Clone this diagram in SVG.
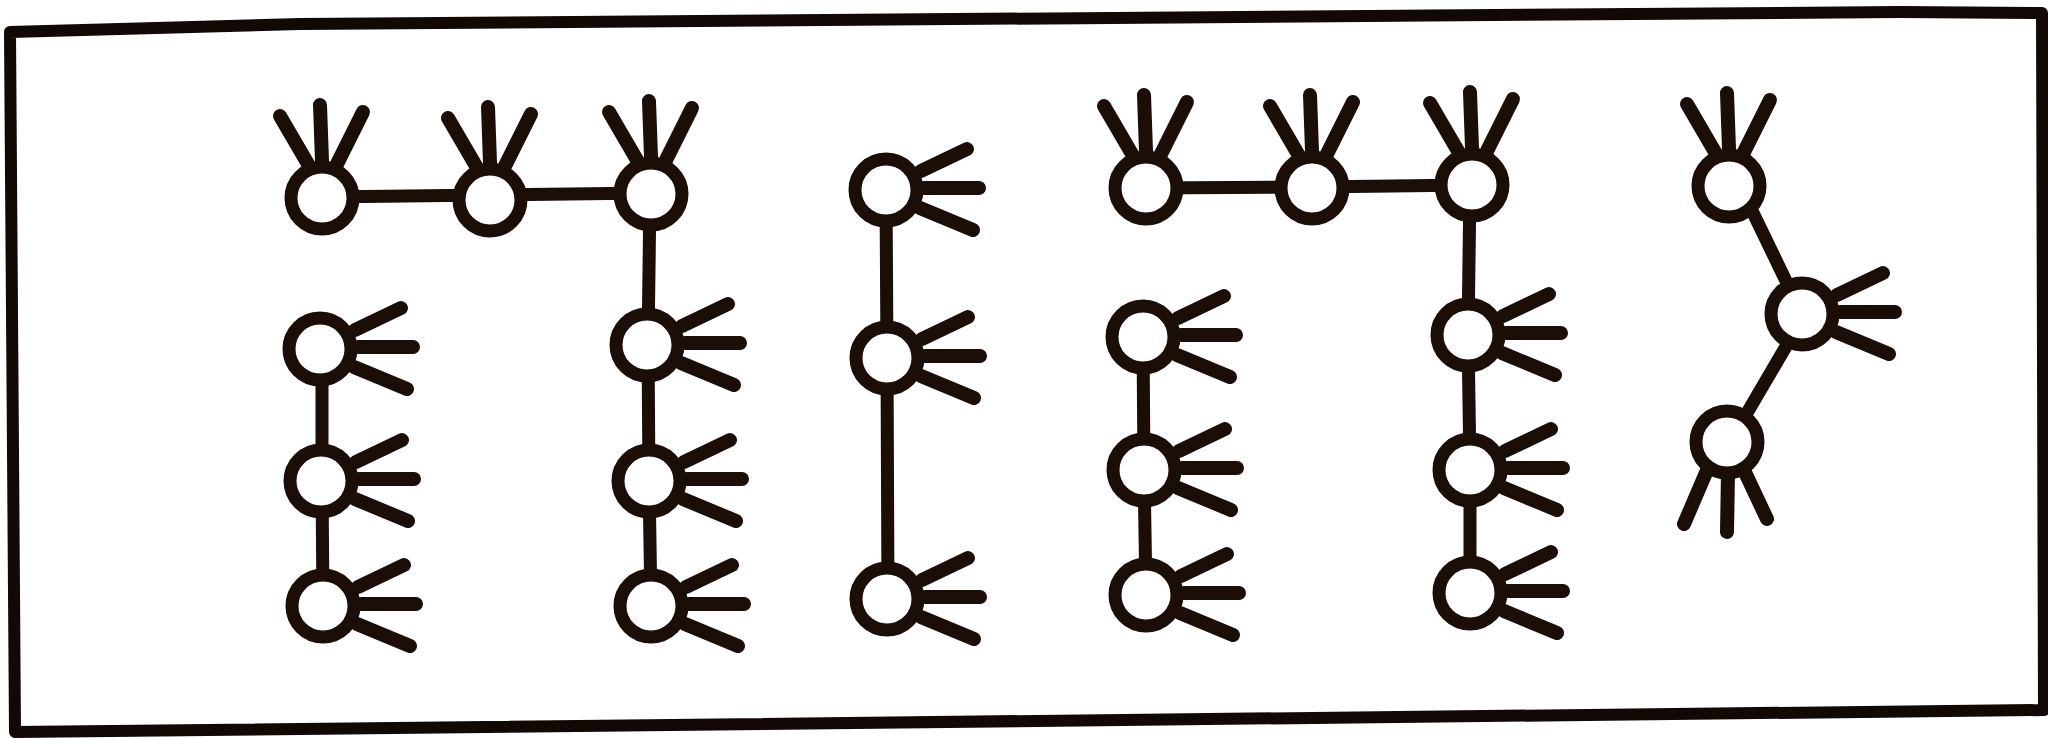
<svg xmlns="http://www.w3.org/2000/svg" xmlns:xlink="http://www.w3.org/1999/xlink" width="2048" height="738" viewBox="0 0 2048 738">
<style>
.ring{fill:#ffffff;stroke:#1b0d08;stroke-width:13}
.spk{fill:none;stroke:#1b0d08;stroke-width:14;stroke-linecap:round}
.con{fill:none;stroke:#1b0d08;stroke-width:13;stroke-linecap:round;stroke-linejoin:round}
.frame{fill:none;stroke:#120805;stroke-width:12;stroke-linejoin:round}
</style>
<defs>
<circle id="ring" class="ring" r="31"/>
<path id="spk-up" class="spk" d="M-14,-34 L-42,-82 M0,-37 L-2,-93 M15,-34 L41,-86"/>
<path id="spk-right" class="spk" d="M35,-19 L81,-41 M38,-2 L93,-2 M34,18 L87,40"/>
<path id="spk-down" class="spk" d="M-19,26 L-43,82 M1,31 L0,90 M16,26 L40,77"/>
</defs>
<rect width="2048" height="738" fill="#ffffff"/>
<path class="frame" d="M10,32 L300,24 L1900,12 L2042,13 L2044,710 L15,732 Z"/>
<g id="connectors">
<path class="con" d="M322,197 L490,195 L651,193 M650,194 L648,345 L649,481 L651,606"/>
<path class="con" d="M322,349 L322,481 L323,606"/>
<path class="con" d="M886,190 L887,358 L888,599"/>
<path class="con" d="M1146,188 L1312,187 L1472,185 M1470,186 L1468,335 L1470,470 L1470,593"/>
<path class="con" d="M1143,337 L1144,470 L1146,595"/>
<path class="con" d="M1742,190 L1802,314 M1805,314 L1730,442"/>
</g>
<g id="node-a1" transform="translate(322,198)"><use xlink:href="#spk-up"/><use xlink:href="#ring"/></g>
<g id="node-a2" transform="translate(490,200)"><use xlink:href="#spk-up"/><use xlink:href="#ring"/></g>
<g id="node-a3" transform="translate(651,194)"><use xlink:href="#spk-up"/><use xlink:href="#ring"/></g>
<g id="node-b1" transform="translate(320,349)"><use xlink:href="#spk-right"/><use xlink:href="#ring"/></g>
<g id="node-b2" transform="translate(321,481)"><use xlink:href="#spk-right"/><use xlink:href="#ring"/></g>
<g id="node-b3" transform="translate(323,606)"><use xlink:href="#spk-right"/><use xlink:href="#ring"/></g>
<g id="node-c1" transform="translate(647,345)"><use xlink:href="#spk-right"/><use xlink:href="#ring"/></g>
<g id="node-c2" transform="translate(649,481)"><use xlink:href="#spk-right"/><use xlink:href="#ring"/></g>
<g id="node-c3" transform="translate(651,606)"><use xlink:href="#spk-right"/><use xlink:href="#ring"/></g>
<g id="node-g1" transform="translate(886,190)"><use xlink:href="#spk-right"/><use xlink:href="#ring"/></g>
<g id="node-g2" transform="translate(887,358)"><use xlink:href="#spk-right"/><use xlink:href="#ring"/></g>
<g id="node-g3" transform="translate(887,599)"><use xlink:href="#spk-right"/><use xlink:href="#ring"/></g>
<g id="node-d1" transform="translate(1146,188)"><use xlink:href="#spk-up"/><use xlink:href="#ring"/></g>
<g id="node-d2" transform="translate(1312,188)"><use xlink:href="#spk-up"/><use xlink:href="#ring"/></g>
<g id="node-d3" transform="translate(1472,185)"><use xlink:href="#spk-up"/><use xlink:href="#ring"/></g>
<g id="node-e1" transform="translate(1143,337)"><use xlink:href="#spk-right"/><use xlink:href="#ring"/></g>
<g id="node-e2" transform="translate(1144,470)"><use xlink:href="#spk-right"/><use xlink:href="#ring"/></g>
<g id="node-e3" transform="translate(1146,595)"><use xlink:href="#spk-right"/><use xlink:href="#ring"/></g>
<g id="node-f1" transform="translate(1468,335)"><use xlink:href="#spk-right"/><use xlink:href="#ring"/></g>
<g id="node-f2" transform="translate(1470,470)"><use xlink:href="#spk-right"/><use xlink:href="#ring"/></g>
<g id="node-f3" transform="translate(1470,593)"><use xlink:href="#spk-right"/><use xlink:href="#ring"/></g>
<g id="node-h1" transform="translate(1729,186)"><use xlink:href="#spk-up"/><use xlink:href="#ring"/></g>
<g id="node-h2" transform="translate(1802,314)"><use xlink:href="#spk-right"/><use xlink:href="#ring"/></g>
<g id="node-h3" transform="translate(1727,442)"><use xlink:href="#spk-down"/><use xlink:href="#ring"/></g>
</svg>
